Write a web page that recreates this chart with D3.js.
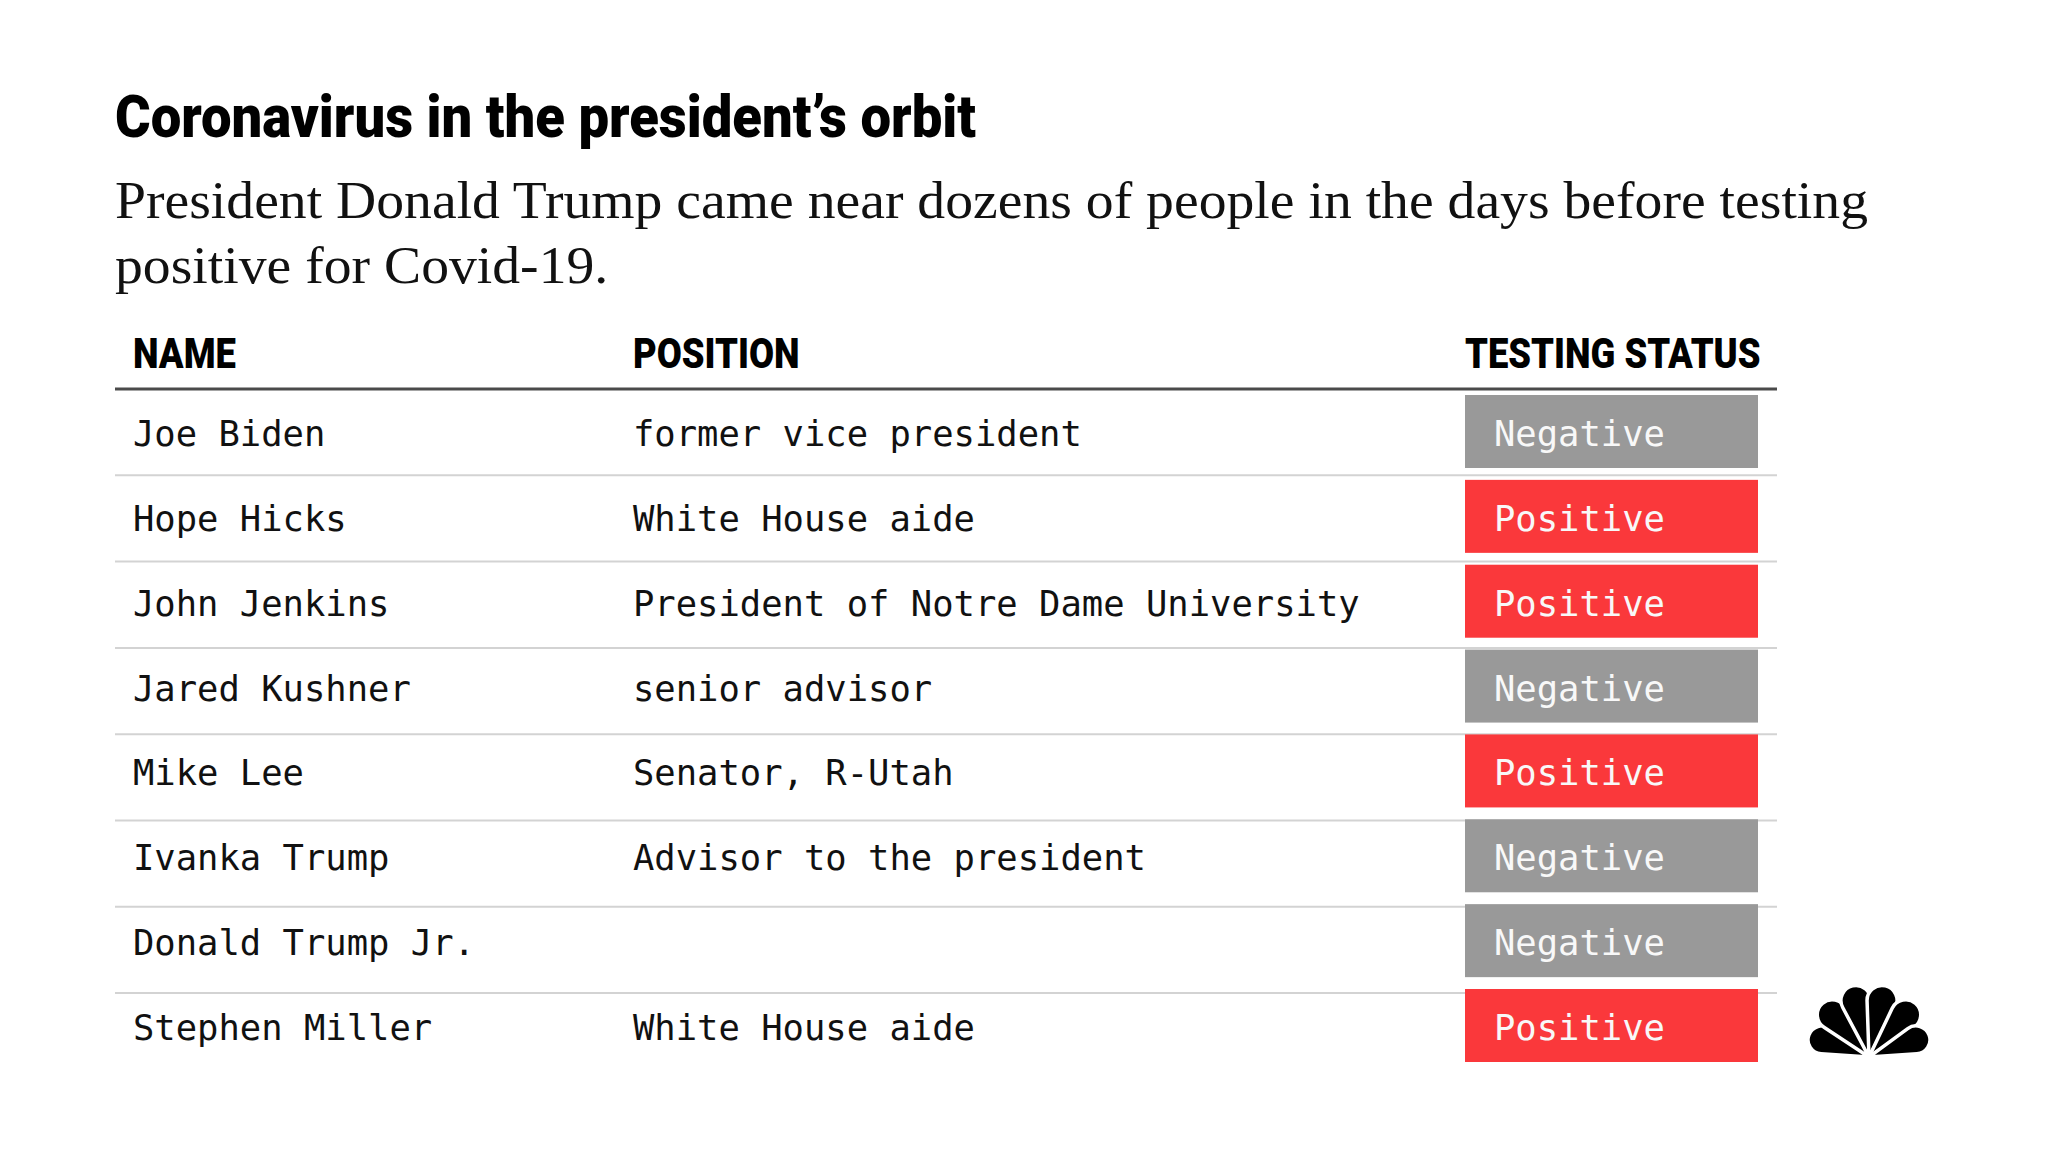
<!DOCTYPE html>
<html>
<head>
<meta charset="utf-8">
<script src="https://cdn.jsdelivr.net/npm/d3@7"></script>
<style>
  body { margin: 0; background: #fff; }
</style>
</head>
<body>
<div id="chart"></div>
<script>
// table contents
var headers = ["NAME", "POSITION", "TESTING STATUS"];
var names = ["Joe Biden", "Hope Hicks", "John Jenkins", "Jared Kushner", "Mike Lee",
  "Ivanka Trump", "Donald Trump Jr.", "Stephen Miller"];
var positions = ["former vice president", "White House aide", "President of Notre Dame University",
  "senior advisor", "Senator, R-Utah", "Advisor to the president", "", "White House aide"];
var statuses = ["Negative", "Positive", "Positive", "Negative", "Positive", "Negative", "Negative", "Positive"];

var title = "Coronavirus in the president\u2019s orbit";
var subtitle = ["President Donald Trump came near dozens of people in the days before testing",
  "positive for Covid-19."];

var width = 2048, height = 1151;
var left = 115, right = 1777;
var statusColor = d3.scaleOrdinal().domain(["Negative", "Positive"]).range(["#999999", "#fa383b"]);

var svg = d3.select("#chart").append("svg")
  .attr("width", width)
  .attr("height", height);

svg.append("rect")
  .attr("width", width)
  .attr("height", height)
  .attr("fill", "#fff");

// squeeze text horizontally to mimic the condensed face
function squeeze(sel, k) {
  sel.each(function() {
    var w = this.getComputedTextLength();
    d3.select(this).attr("textLength", w * k).attr("lengthAdjust", "spacingAndGlyphs");
  });
}

//title
var titleText = svg.append("text")
  .attr("x", left)
  .attr("y", 137)
  .text(title)
  .style("font-family", "Roboto")
  .style("font-weight", 900)
  .style("font-size", "60px")
  .attr("fill", "#000");
var k = 861 / titleText.node().getComputedTextLength();
squeeze(titleText, k);

//subtitle
var sub = svg.append("g");
sub.selectAll("text")
  .data(subtitle)
  .enter().append("text")
  .attr("x", left)
  .attr("y", function(d, i) { return 218 + i * 65; })
  .text(function(d) { return d; })
  .style("font-family", "Liberation Serif")
  .style("font-size", "53px")
  .attr("fill", "#111");
var subK = 1753 / sub.select("text").node().getComputedTextLength();
squeeze(sub.selectAll("text"), subK);

// scales
var colX = d3.scaleOrdinal().domain(headers).range([133, 633, 1465]);
var lineY = d3.scaleLinear().domain([0, names.length]).range([389, 389 + 86.3 * names.length]);
var boxY = d3.scaleLinear().domain([0, names.length - 1]).range([395, 989]);
var boxH = 73, boxW = 293;

//headers
var head = svg.append("g");
head.selectAll("text")
  .data(headers)
  .enter().append("text")
  .attr("x", function(d) { return colX(d); })
  .attr("y", 368)
  .text(function(d) { return d; })
  .style("font-family", "Roboto")
  .style("font-weight", 900)
  .style("font-size", "42px")
  .attr("fill", "#000");
squeeze(head.selectAll("text"), k * 0.955);

// row rules
svg.append("g").selectAll("line")
  .data(d3.range(1, names.length))
  .enter().append("line")
  .attr("x1", left)
  .attr("x2", right)
  .attr("y1", function(d) { return lineY(d); })
  .attr("y2", function(d) { return lineY(d); })
  .attr("stroke", "#d3d3d3")
  .attr("stroke-width", 2);

// status boxes
var rows = svg.append("g").selectAll("g")
  .data(names.map(function(n, i) { return { name: n, position: positions[i], status: statuses[i], i: i }; }))
  .enter().append("g");

rows.append("rect")
  .attr("x", colX("TESTING STATUS"))
  .attr("y", function(d) { return boxY(d.i); })
  .attr("width", boxW)
  .attr("height", boxH)
  .attr("fill", function(d) { return statusColor(d.status); });

svg.append("line")
  .attr("x1", left)
  .attr("x2", right)
  .attr("y1", lineY(0))
  .attr("y2", lineY(0))
  .attr("stroke", "#4a4a4a")
  .attr("stroke-width", 3);

var mono = function(sel) {
  sel.style("font-family", "DejaVu Sans Mono").style("font-size", "35.5px");
};

rows.append("text")
  .attr("x", colX("NAME"))
  .attr("y", function(d) { return boxY(d.i) + 51; })
  .text(function(d) { return d.name; })
  .attr("fill", "#111")
  .call(mono);

rows.append("text")
  .attr("x", colX("POSITION"))
  .attr("y", function(d) { return boxY(d.i) + 51; })
  .text(function(d) { return d.position; })
  .attr("fill", "#111")
  .call(mono);

rows.append("text")
  .attr("x", colX("TESTING STATUS") + 29)
  .attr("y", function(d) { return boxY(d.i) + 51; })
  .text(function(d) { return d.status; })
  .attr("fill", "#f8f8f8")
  .call(mono);

// peacock logo: six teardrop feathers fanning from the base
var feathers = [
  { a: -70, c: 50, r: 14 },
  { a: -41, c: 56, r: 15 },
  { a: -13, c: 58, r: 15 },
  { a: 13, c: 58, r: 15 },
  { a: 41, c: 56, r: 15 },
  { a: 70, c: 50, r: 14 }
];
var defs = svg.append("defs");
defs.append("clipPath").attr("id", "logoclip")
  .append("rect").attr("x", -80).attr("y", -90).attr("width", 160).attr("height", 90);

var logo = svg.append("g")
  .attr("transform", "translate(1869,1057)")
  .append("g")
  .attr("clip-path", "url(#logoclip)");

logo.selectAll("path")
  .data(feathers)
  .enter().append("path")
  .attr("transform", function(d) { return "rotate(" + d.a + ")"; })
  .attr("d", function(d) {
    var t = Math.asin(d.r / d.c);
    var s = Math.sqrt(d.c * d.c - d.r * d.r);
    var px = s * Math.sin(t), py = -s * Math.cos(t);
    return "M0,0 L" + (-px) + "," + py +
      " A" + d.r + "," + d.r + " 0 1 1 " + px + "," + py + " Z";
  })
  .attr("fill", "#000")
  .attr("stroke", "#fff")
  .attr("stroke-width", 3.5)
  .attr("stroke-linejoin", "miter");
</script>
</body>
</html>
